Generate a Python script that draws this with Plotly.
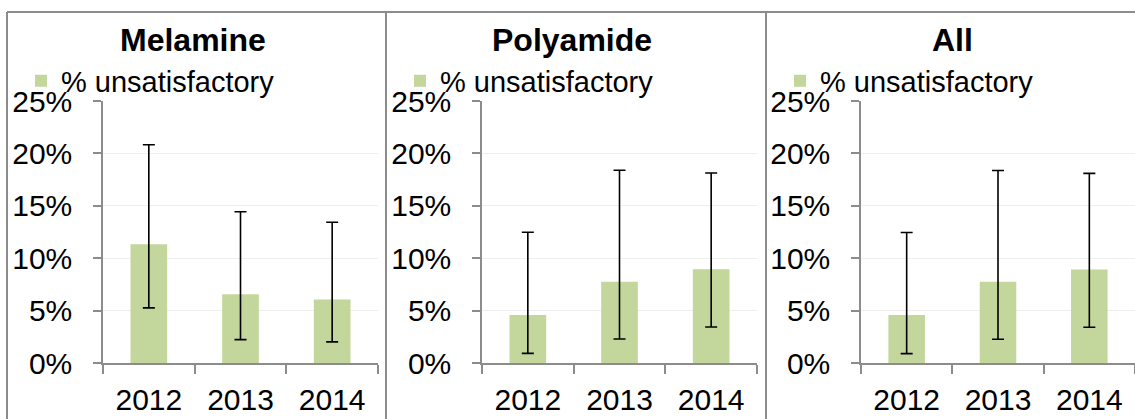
import plotly.graph_objects as go

years = ["2012", "2013", "2014"]
panels = ["Melamine", "Polyamide", "All"]
series_name = "% unsatisfactory"

melamine_pct = [0.1135, 0.0658, 0.0608]
melamine_upper = [0.2083, 0.1444, 0.1345]
melamine_lower = [0.0528, 0.0226, 0.0204]

polyamide_pct = [0.0460, 0.0778, 0.0896]
polyamide_upper = [0.1249, 0.1840, 0.1814]
polyamide_lower = [0.0095, 0.0232, 0.0346]

all_pct = [0.0460, 0.0778, 0.0893]
all_upper = [0.1246, 0.1837, 0.1810]
all_lower = [0.0092, 0.0229, 0.0343]

y_tickvals = [0, 0.05, 0.10, 0.15, 0.20, 0.25]

W, H = 1135, 419
FONT = "Arial, 'Liberation Sans', sans-serif"
BAR = "#C3D69B"
AX = "#8C8C8C"

data = [
    (melamine_pct, melamine_upper, melamine_lower),
    (polyamide_pct, polyamide_upper, polyamide_lower),
    (all_pct, all_upper, all_lower),
]

# pixel layout
plot_left = [103, 482, 861]
plot_width = 275
plot_top, plot_bottom = 101, 363.3
panel_left = [7, 386, 766]
panel_w = 380

fig = go.Figure()
legend_names = ["legend", "legend2", "legend3"]
for i, (vals, up, lo) in enumerate(data):
    xa = "x" if i == 0 else f"x{i+1}"
    ya = "y" if i == 0 else f"y{i+1}"
    fig.add_trace(go.Bar(
        x=years, y=vals, name=series_name,
        marker=dict(color=BAR, line=dict(width=0)),
        width=0.4,
        error_y=dict(type="data",
                     array=[u - v for u, v in zip(up, vals)],
                     arrayminus=[v - l for v, l in zip(vals, lo)],
                     color="black", thickness=1.6, width=6),
        xaxis=xa, yaxis=ya, legend=legend_names[i], showlegend=True,
    ))

layout = dict(
    template="none",
    width=W, height=H,
    margin=dict(l=0, r=0, t=0, b=0, pad=0, autoexpand=False),
    paper_bgcolor="white", plot_bgcolor="white",
    font=dict(family=FONT, color="black"),
)

for i in range(3):
    sx = "" if i == 0 else str(i + 1)
    x0 = plot_left[i] / W
    x1 = min((plot_left[i] + plot_width) / W, 1.0)
    layout["xaxis" + sx] = dict(
        domain=[x0, x1], anchor="y" + sx, type="category", automargin=False,
        range=[-0.5, 2.5], showline=True, linecolor=AX, linewidth=1.5,
        ticks="outside", tickson="boundaries", ticklen=9, tickcolor=AX, tickwidth=1.5,
        tickfont=dict(size=30, family=FONT, color="black"),
        ticklabelstandoff=9, showgrid=False, zeroline=False, fixedrange=True,
    )
    layout["yaxis" + sx] = dict(
        domain=[(H - plot_bottom) / H, (H - plot_top) / H], anchor="x" + sx,
        automargin=False,
        range=[0, 0.25], tickvals=y_tickvals, tickformat=".0%",
        showline=True, linecolor=AX, linewidth=1.5,
        ticks="outside", ticklen=8, tickcolor=AX, tickwidth=1.5,
        showgrid=True, gridcolor="#EEEEEE", gridwidth=1, zeroline=False,
        tickfont=dict(size=30, family=FONT, color="black"),
        ticklabelstandoff=15, fixedrange=True,
    )
    layout[legend_names[i]] = dict(
        x=(panel_left[i] + 14) / W, xanchor="left",
        y=(H - 81) / H, yanchor="middle",
        font=dict(size=29, family=FONT, color="black"),
        bgcolor="rgba(0,0,0,0)", borderwidth=0,
        itemwidth=30, tracegroupgap=0,
    )

annotations = []
for i, name in enumerate(panels):
    annotations.append(dict(
        text=f"<b>{name}</b>", xref="paper", yref="paper",
        x=(panel_left[i] + panel_w / 2 - 4) / W, y=(H - 40) / H,
        xanchor="center", yanchor="middle", showarrow=False,
        font=dict(size=32, family=FONT, color="black"),
    ))
layout["annotations"] = annotations

shapes = [dict(type="line", xref="paper", yref="paper",
               x0=7 / W, x1=1, y0=(H - 12) / H, y1=(H - 12) / H,
               line=dict(color=AX, width=2))]
for px in panel_left:
    shapes.append(dict(type="line", xref="paper", yref="paper",
                       x0=px / W, x1=px / W, y0=0, y1=(H - 12) / H,
                       line=dict(color=AX, width=2)))
layout["shapes"] = shapes

fig.update_layout(**layout)
fig.write_html("out.html", config={"displayModeBar": False},
               post_script="document.body.style.margin='0';")
